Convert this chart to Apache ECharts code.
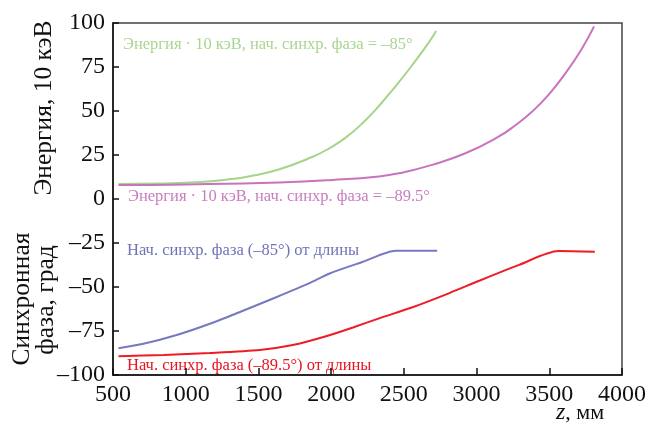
<!DOCTYPE html>
<html>
<head>
<meta charset="utf-8">
<script src="https://cdn.jsdelivr.net/npm/echarts@6/dist/echarts.min.js"></script>
<style>html,body{margin:0;padding:0;background:#fff}#c{width:649px;height:430px}</style>
</head>
<body>
<div id="c"></div>
<script>
var xTicks = [500, 1000, 1500, 2000, 2500, 3000, 3500, 4000];
var yTicks = [-100, -75, -50, -25, 0, 25, 50, 75, 100];

var energy85 = [[538, 8.5], [800, 8.8], [1100, 9.6], [1300, 11.2], [1440, 12.9], [1645, 16.9], [1873, 24.0], [1987, 28.8], [2102, 35.0], [2215, 43.0], [2330, 53.0], [2444, 64.2], [2557, 76.0], [2672, 89.0], [2722, 95.4]];
var energy895 = [[538, 8.0], [1000, 8.3], [1645, 9.4], [2010, 10.8], [2330, 12.8], [2466, 14.6], [2694, 19.4], [2923, 26.0], [3151, 35.4], [3265, 41.8], [3379, 49.4], [3493, 59.0], [3607, 71.0], [3721, 85.0], [3808, 98.1]];
var phase85 = [[538, -84.8], [709, -82.3], [938, -77.3], [1166, -70.9], [1394, -63.5], [1622, -55.8], [1850, -47.8], [1990, -42.3], [2215, -35.8], [2444, -29.4], [2729, -29.4]];
var phase895 = [[538, -89.3], [850, -88.6], [1166, -87.5], [1508, -85.8], [1736, -83.0], [1965, -78.0], [2150, -73.0], [2330, -67.8], [2560, -61.5], [2809, -53.6], [3014, -46.6], [3288, -37.6], [3562, -29.6], [3813, -30.0]];

var labels = {
  e85: 'Энергия · 10 кэВ, нач. синхр. фаза = –85°',
  e895: 'Энергия · 10 кэВ, нач. синхр. фаза = –89.5°',
  p85: 'Нач. синхр. фаза (–85°) от длины',
  p895: 'Нач. синхр. фаза (–89.5°) от длины'
};

var FONT = '"Liberation Serif", "DejaVu Serif", serif';
var chart = echarts.init(document.getElementById('c'));
function dash(v){ return String(v).replace('-', '–'); }

chart.setOption({
  animation: false,
  grid: {left: 113, top: 23, right: 25, bottom: 55, show: true, borderColor: '#444', borderWidth: 1.5, backgroundColor: 'transparent'},
  xAxis: {
    type: 'value', min: xTicks[0], max: xTicks[xTicks.length-1], interval: 500,
    axisLine: {show: true, onZero: false, lineStyle: {color: '#111', width: 1.5}},
    axisTick: {show: true, inside: true, length: 7, lineStyle: {color: '#111', width: 1.5}},
    axisLabel: {color: '#111', fontFamily: FONT, fontSize: 24, margin: 8, formatter: function(v){return String(v);}},
    splitLine: {show: false}
  },
  yAxis: {
    type: 'value', min: yTicks[0], max: yTicks[yTicks.length-1], interval: 25,
    axisLine: {show: true, onZero: false, lineStyle: {color: '#111', width: 1.5}},
    axisTick: {show: true, inside: true, length: 6, lineStyle: {color: '#111', width: 1.5}},
    axisLabel: {color: '#111', fontFamily: FONT, fontSize: 24, margin: 8, formatter: function(v){return dash(v);}},
    splitLine: {show: false}
  },
  series: [
    {type: 'line', data: energy85, showSymbol: false, smooth: 0.5, lineStyle: {color: '#a6d48a', width: 2}},
    {type: 'line', data: energy895, showSymbol: false, smooth: 0.5, lineStyle: {color: '#c874bc', width: 2}},
    {type: 'line', data: phase85, showSymbol: false, smooth: 0.25, lineStyle: {color: '#7778c0', width: 2}},
    {type: 'line', data: phase895, showSymbol: false, smooth: 0.25, lineStyle: {color: '#ee1c25', width: 2}}
  ],
  graphic: [
    {type: 'text', left: 123, top: 36, style: {text: labels.e85, fill: '#a9d590', font: '16.5px ' + FONT}},
    {type: 'text', left: 128, top: 188, style: {text: labels.e895, fill: '#c87dbe', font: '16.5px ' + FONT}},
    {type: 'text', left: 127, top: 242, style: {text: labels.p85, fill: '#7073b8', font: '16.5px ' + FONT}},
    {type: 'text', left: 127, top: 357, style: {text: labels.p895, fill: '#e8141f', font: '16.5px ' + FONT}},
    {type: 'text', x: 44, y: 108, rotation: Math.PI/2, style: {text: 'Энергия, 10 кэВ', fill: '#111', font: '25.5px ' + FONT, textAlign: 'center', textVerticalAlign: 'middle'}},
    {type: 'text', x: 22, y: 299, rotation: Math.PI/2, style: {text: 'Синхронная', fill: '#111', font: '25.5px ' + FONT, textAlign: 'center', textVerticalAlign: 'middle'}},
    {type: 'text', x: 46, y: 300, rotation: Math.PI/2, style: {text: 'фаза, град', fill: '#111', font: '25.5px ' + FONT, textAlign: 'center', textVerticalAlign: 'middle'}},
    {type: 'text', x: 556, y: 413, style: {text: '{i|z}, мм', textVerticalAlign: 'middle', rich: {i: {fontFamily: FONT, fontStyle: 'italic', fontSize: 24, fill: '#111'}}, fill: '#111', font: '22px ' + FONT}}
  ]
});
</script>
</body>
</html>
